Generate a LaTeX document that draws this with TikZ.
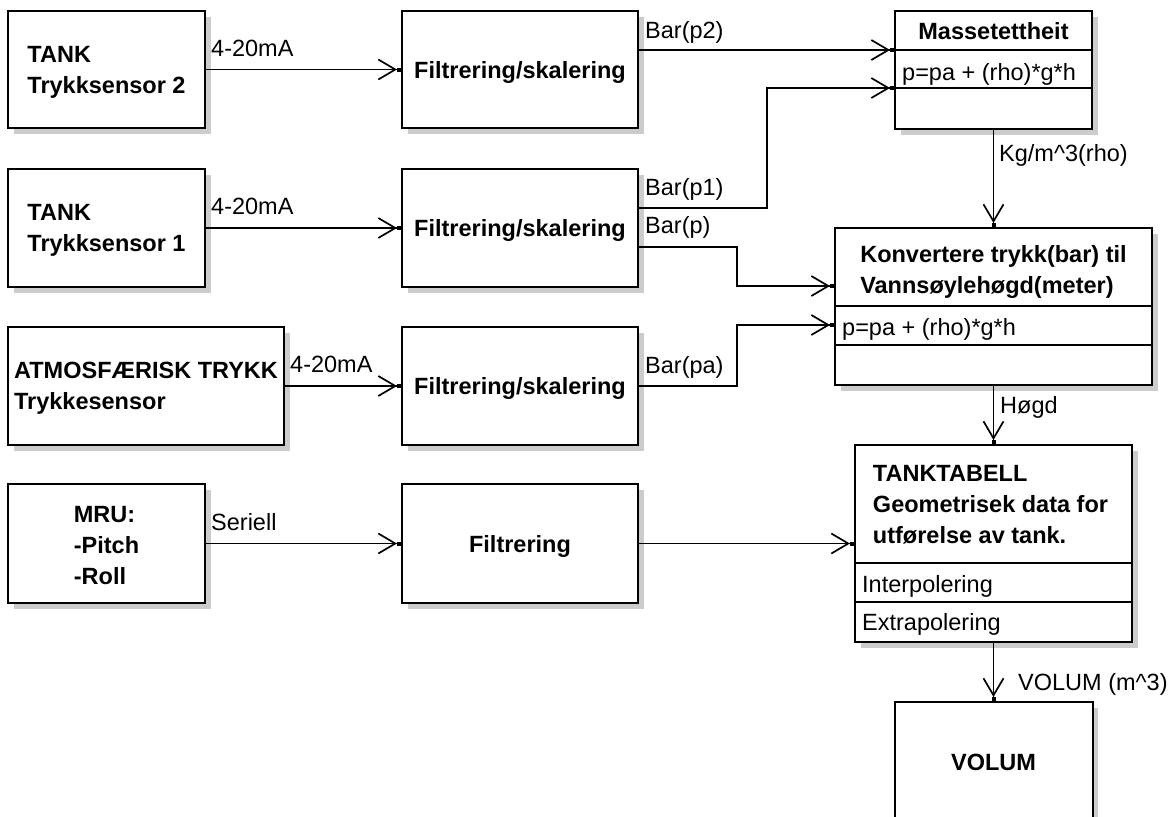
\documentclass[tikz,border=0pt]{standalone}
\usepackage{fontspec}
\setmainfont{Liberation Sans}
\usetikzlibrary{arrows.meta, positioning}
\definecolor{skyggefarge}{RGB}{204,204,204}
\tikzset{
    boks/.style={rectangle, draw, line width=2pt, fill=white, inner sep=0pt},
    skygge/.style={fill=skyggefarge, draw=none},
    tekst/.style={inner sep=0pt, align=left, yshift=-2.5pt, font=\fontsize{23.5}{31}\selectfont\bfseries},
    tittel/.style={inner sep=0pt, align=left, font=\fontsize{23.5}{31}\selectfont\bfseries},
    felt/.style={inner sep=0pt, anchor=base west, font=\fontsize{23.5}{31}\selectfont},
    etikett/.style={inner sep=0pt, anchor=base west, font=\fontsize{23.5}{31}\selectfont},
    skille/.style={line width=2pt},
    signal/.style={line width=1.7pt, -{Straight Barb[length=17pt, width=20pt] Square[length=4pt, width=4pt]}}
}

\begin{document}
\begin{tikzpicture}[x=1pt, y=-1pt]
            \useasboundingbox (0,0) rectangle (1176,817);

            % Skygger (venstre/topp/bredde/hoegde)
            \foreach \sx/\sy/\sw/\sh in {8/11/197/117, 8/169/197/118, 8/327/276/118, 8/484/197/119,
                402/11/236/117, 402/169/236/118, 402/327/236/118, 402/484/236/119,
                895/11/197/118, 835/228/317/157, 855/445/277/197, 894/702/198/138}
                \path[skygge] (\sx+6,\sy+6) rectangle (\sx+\sw+6,\sy+\sh+6);

            % Sensorer
            \node[boks, minimum width=197pt, minimum height=117pt, label={[tekst]center:{TANK\\Trykksensor 2}}] (tank2) at (106.5,69.5) {};
            \node[boks, minimum width=197pt, minimum height=118pt, label={[tekst]center:{TANK\\Trykksensor 1}}] (tank1) at (106.5,228) {};
            \node[boks, minimum width=276pt, minimum height=118pt, label={[tekst]center:{ATMOSFÆRISK TRYKK\\Trykkesensor}}] (atm) at (146,386) {};
            \node[boks, minimum width=197pt, minimum height=119pt, label={[tekst]center:{MRU:\\-Pitch\\-Roll}}] (mru) at (106.5,543.5) {};

            % Filtrering
            \node[boks, minimum width=236pt, minimum height=117pt, label={[tekst]center:Filtrering/skalering}] (filt1) at (520,69.5) {};
            \node[boks, minimum width=236pt, minimum height=118pt, label={[tekst]center:Filtrering/skalering}] (filt2) at (520,228) {};
            \node[boks, minimum width=236pt, minimum height=118pt, label={[tekst]center:Filtrering/skalering}] (filt3) at (520,386) {};
            \node[boks, minimum width=236pt, minimum height=119pt, label={[tekst]center:Filtrering}] (filtr) at (520,543.5) {};

            % Massetettheit
            \node[boks, minimum width=197pt, minimum height=118pt] (masse) at (993.5,70) {};
            \node[tittel] (masse-tittel) at (993.5,31) {Massetettheit};
            \node[felt] (masse-formel) at (902,80) {p=pa + (rho)*g*h};
            \draw[skille] ([yshift=-40pt]masse.north west) -- ([yshift=-40pt]masse.north east);
            \draw[skille] ([yshift=-78pt]masse.north west) -- ([yshift=-78pt]masse.north east);
            \coordinate (masse-inn1) at ([yshift=-40pt]masse.north west);
            \coordinate (masse-inn2) at ([yshift=-78pt]masse.north west);

            % Konvertering
            \node[boks, minimum width=317pt, minimum height=157pt] (konv) at (993.5,306.5) {};
            \node[tittel] (konv-tittel) at (993.5,272) {Konvertere trykk(bar) til\\Vannsøylehøgd(meter)};
            \node[felt] (konv-formel) at (842,335) {p=pa + (rho)*g*h};
            \draw[skille] ([yshift=-79pt]konv.north west) -- ([yshift=-79pt]konv.north east);
            \draw[skille] ([yshift=-118pt]konv.north west) -- ([yshift=-118pt]konv.north east);
            \coordinate (konv-inn1) at ([yshift=-59pt]konv.north west);
            \coordinate (konv-inn2) at ([yshift=-98pt]konv.north west);

            % Tanktabell
            \node[boks, minimum width=277pt, minimum height=197pt] (tabell) at (993.5,543.5) {};
            \node[tittel] (tabell-tittel) at (990.5,505) {TANKTABELL\\Geometrisek data for\\utførelse av tank.};
            \node[felt] (tabell-interp) at (862,592) {Interpolering};
            \node[felt] (tabell-extrap) at (862,630) {Extrapolering};
            \draw[skille] ([yshift=-119pt]tabell.north west) -- ([yshift=-119pt]tabell.north east);
            \draw[skille] ([yshift=-158pt]tabell.north west) -- ([yshift=-158pt]tabell.north east);

            % Volum
            \node[boks, minimum width=198pt, minimum height=138pt] (volum) at (993.5,771) {};
            \node[tittel] (volum-tittel) at (993.5,762) {VOLUM};

            % Signaler
            \draw[signal] (tank2) -- (filt1);
            \draw[signal] (tank1) -- (filt2);
            \draw[signal] (atm) -- (filt3);
            \draw[signal] (mru) -- (filtr);
            \draw[signal] (filt1.east |- masse-inn1) -- (masse-inn1);
            \draw[signal] ([yshift=20pt]filt2.east) -- ++(128,0) |- (masse-inn2);
            \draw[signal] ([yshift=-19pt]filt2.east) -- ++(98,0) |- (konv-inn1);
            \draw[signal] (filt3.east) -- ++(98,0) |- (konv-inn2);
            \draw[signal] (filtr.east) -- (filtr.east -| tabell.west);
            \draw[signal] (masse) -- (konv);
            \draw[signal] (konv) -- (tabell);
            \draw[signal] (tabell) -- (volum);

            % Etiketter
            \node[etikett] (l-tank2) at (211,56) {4-20mA};
            \node[etikett] (l-tank1) at (211,214) {4-20mA};
            \node[etikett] (l-atm) at (290,372) {4-20mA};
            \node[etikett] (l-mru) at (211,530) {Seriell};
            \node[etikett] (l-p2) at (645,38) {Bar(p2)};
            \node[etikett] (l-p1) at (645,195) {Bar(p1)};
            \node[etikett] (l-p) at (645,233) {Bar(p)};
            \node[etikett] (l-pa) at (645,373) {Bar(pa)};
            \node[etikett] (l-rho) at (999,161) {Kg/m\textasciicircum 3(rho)};
            \node[etikett] (l-hogd) at (1000,413) {Høgd};
            \node[etikett] (l-volum) at (1018,690) {VOLUM (m\textasciicircum 3)};

        \end{tikzpicture}
\end{document}
